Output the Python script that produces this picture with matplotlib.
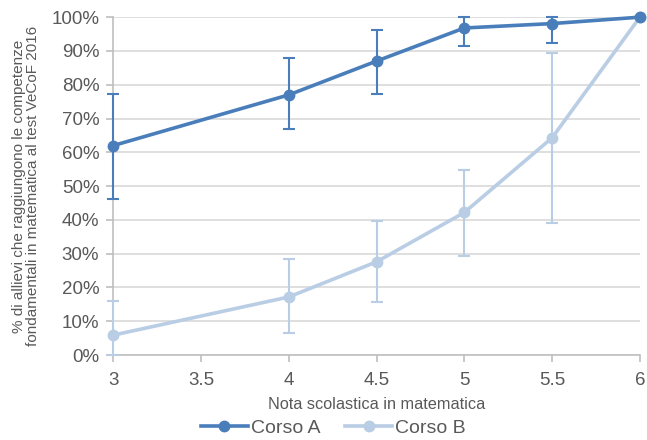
import matplotlib
matplotlib.use("Agg")
import matplotlib.pyplot as plt
from matplotlib.ticker import FuncFormatter
from matplotlib.lines import Line2D

plt.rcParams['font.family'] = ['Liberation Sans', 'DejaVu Sans']

x = [3, 4, 4.5, 5, 5.5, 6]
a_val = [62, 77, 87, 96.8, 98.1, 100]
a_low = [46.2, 67.0, 77.4, 91.5, 92.3, 100]
a_high = [77.4, 87.9, 96.2, 100, 100, 100]
b_val = [5.9, 17.2, 27.6, 42.2, 64.3, 100]
b_low = [0, 6.4, 15.6, 29.3, 39.0, 100]
b_high = [16.0, 28.4, 39.6, 54.8, 89.3, 100]
x_ticks = [3, 3.5, 4, 4.5, 5, 5.5, 6]
x_ticklabels = ['3', '3.5', '4', '4.5', '5', '5.5', '6']

col_a = '#4a7ebb'
col_b = '#b9cde5'
txt = '#595959'

fig = plt.figure(figsize=(6.47, 4.40), dpi=100)
ax = fig.add_axes([0.175, 0.193, 0.814, 0.768])

def err(v, lo, hi):
    return [[vv - l for vv, l in zip(v, lo)], [h - vv for vv, h in zip(v, hi)]]

ax.errorbar(x, b_val, yerr=err(b_val, b_low, b_high), color=col_b, lw=2.6,
            marker='o', ms=7.5, elinewidth=1.5, capsize=4.5, capthick=1.5,
            clip_on=False, zorder=3)
ax.errorbar(x, a_val, yerr=err(a_val, a_low, a_high), color=col_a, lw=2.6,
            marker='o', ms=7.5, elinewidth=1.5, capsize=4.5, capthick=1.5,
            clip_on=False, zorder=4)

ax.set_xlim(3, 6)
ax.set_ylim(0, 100)
ax.set_xticks(x_ticks)
ax.set_xticklabels(x_ticklabels)
ax.set_yticks(range(0, 101, 10))
ax.yaxis.set_major_formatter(FuncFormatter(lambda v, p: f'{int(v)}%'))
ax.grid(axis='y', color='#d9d9d9', lw=1.2)
ax.set_axisbelow(True)
for s in ['top', 'right']:
    ax.spines[s].set_visible(False)
for s in ['left', 'bottom']:
    ax.spines[s].set_color('#bfbfbf')
    ax.spines[s].set_linewidth(1.2)
ax.tick_params(axis='both', colors='#bfbfbf', length=5, width=1.2,
               labelcolor=txt, labelsize=13.5)
ax.tick_params(axis='x', pad=7)
ax.tick_params(axis='y', pad=5)

ax.set_xlabel('Nota scolastica in matematica', fontsize=11.7, color=txt, labelpad=6)
ax.set_ylabel('% di allievi che raggiungono le competenze\nfondamentali in matematica al test VeCoF 2016',
              fontsize=11, color=txt, labelpad=8, linespacing=1.05)

handles = [Line2D([], [], color=col_a, lw=2.6, marker='o', ms=7.5),
           Line2D([], [], color=col_b, lw=2.6, marker='o', ms=7.5)]
fig.legend(handles, ['Corso A', 'Corso B'], loc='lower center',
           bbox_to_anchor=(0.515, -0.032), ncol=2, frameon=False,
           fontsize=14, handlelength=2.4, handletextpad=0.15,
           columnspacing=1.3, labelcolor=txt)

fig.savefig('out.png', dpi=100)
